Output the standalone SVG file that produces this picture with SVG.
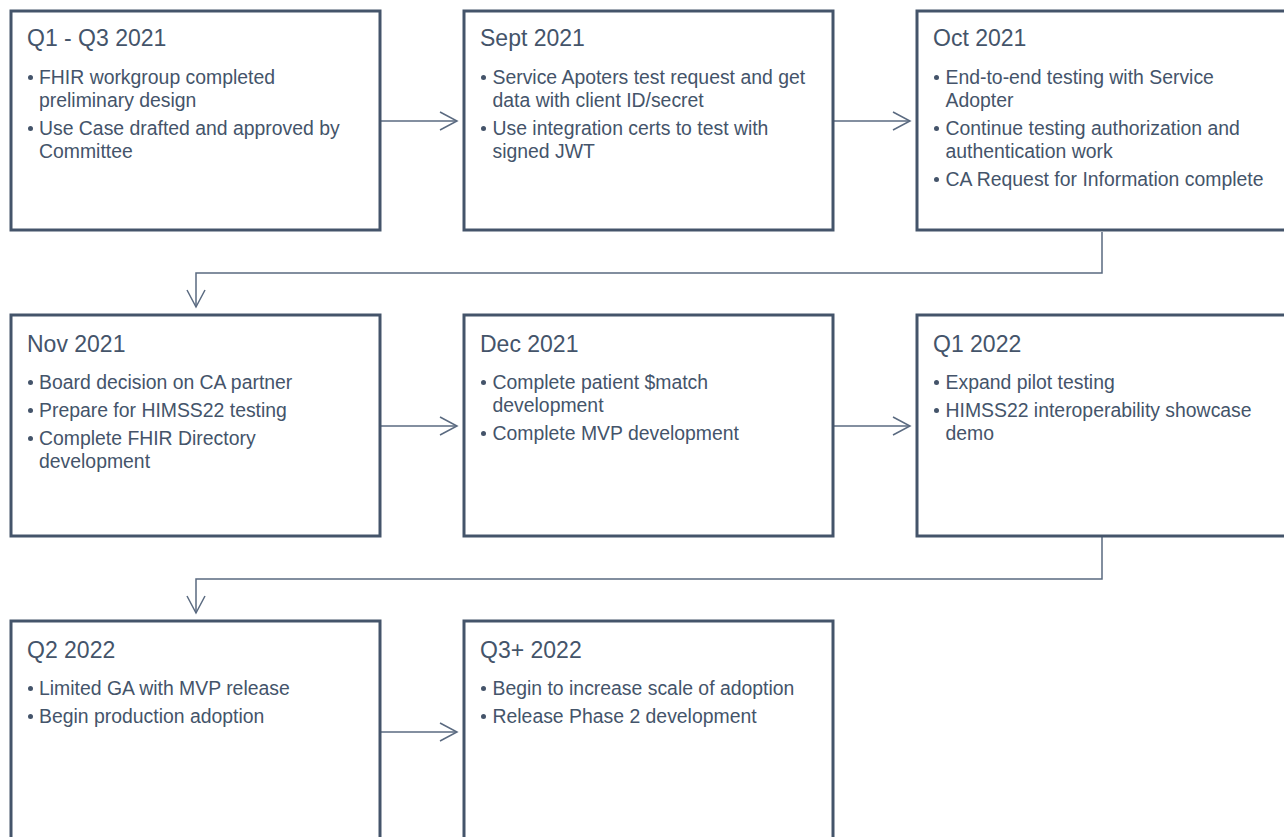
<svg xmlns="http://www.w3.org/2000/svg" width="1284" height="837" viewBox="0 0 1284 837">
<defs>
<style>
.box{fill:#ffffff;stroke:#44546a;stroke-width:3}
.t{font-family:"Liberation Sans",Arial,sans-serif;fill:#44546a}
.title{font-size:23px}
.b{font-size:19.4px}
.dot{fill:#44546a}
.conn{fill:none;stroke:#5a6a80;stroke-width:1.5}
</style>
<marker id="arr" markerUnits="userSpaceOnUse" markerWidth="24" markerHeight="24" viewBox="-20 -12 24 24" refX="0" refY="0" orient="auto">
<polyline points="-17,-9 0,0 -17,9" fill="none" stroke="#5a6a80" stroke-width="1.5"/>
</marker>
</defs>
<rect width="1284" height="837" fill="#ffffff"/>
<g id="connectors">
<line class="conn" x1="381" y1="121" x2="457" y2="121" marker-end="url(#arr)"/>
<line class="conn" x1="834" y1="121" x2="910" y2="121" marker-end="url(#arr)"/>
<polyline class="conn" points="1102,232 1102,273 196,273 196,307" marker-end="url(#arr)"/>
<line class="conn" x1="381" y1="426" x2="457" y2="426" marker-end="url(#arr)"/>
<line class="conn" x1="834" y1="426" x2="910" y2="426" marker-end="url(#arr)"/>
<polyline class="conn" points="1102,537 1102,579 196,579 196,613" marker-end="url(#arr)"/>
<line class="conn" x1="381" y1="732" x2="457" y2="732" marker-end="url(#arr)"/>
</g>
<g id="n1">
<rect class="box" x="11" y="11" width="369" height="219"/>
<text class="t title" x="27" y="46">Q1 - Q3 2021</text>
<circle class="dot" cx="30.5" cy="77.5" r="2.5"/>
<text class="t b" x="39" y="84">FHIR workgroup completed</text>
<text class="t b" x="39" y="107">preliminary design</text>
<circle class="dot" cx="30.5" cy="128.5" r="2.5"/>
<text class="t b" x="39" y="135">Use Case drafted and approved by</text>
<text class="t b" x="39" y="158">Committee</text>
</g>
<g id="n2">
<rect class="box" x="464" y="11" width="369" height="219"/>
<text class="t title" x="480" y="46">Sept 2021</text>
<circle class="dot" cx="483.5" cy="77.5" r="2.5"/>
<text class="t b" x="492.5" y="84">Service Apoters test request and get</text>
<text class="t b" x="492.5" y="107">data with client ID/secret</text>
<circle class="dot" cx="483.5" cy="128.5" r="2.5"/>
<text class="t b" x="492.5" y="135">Use integration certs to test with</text>
<text class="t b" x="492.5" y="158">signed JWT</text>
</g>
<g id="n3">
<rect class="box" x="917" y="11" width="369" height="219"/>
<text class="t title" x="933" y="46">Oct 2021</text>
<circle class="dot" cx="936.5" cy="77.5" r="2.5"/>
<text class="t b" x="945.5" y="84">End-to-end testing with Service</text>
<text class="t b" x="945.5" y="107">Adopter</text>
<circle class="dot" cx="936.5" cy="128.5" r="2.5"/>
<text class="t b" x="945.5" y="135">Continue testing authorization and</text>
<text class="t b" x="945.5" y="158">authentication work</text>
<circle class="dot" cx="936.5" cy="179.5" r="2.5"/>
<text class="t b" x="945.5" y="186">CA Request for Information complete</text>
</g>
<g id="n4">
<rect class="box" x="11" y="315" width="369" height="221"/>
<text class="t title" x="27" y="352">Nov 2021</text>
<circle class="dot" cx="30.5" cy="382.5" r="2.5"/>
<text class="t b" x="39" y="389">Board decision on CA partner</text>
<circle class="dot" cx="30.5" cy="410.5" r="2.5"/>
<text class="t b" x="39" y="417">Prepare for HIMSS22 testing</text>
<circle class="dot" cx="30.5" cy="438.5" r="2.5"/>
<text class="t b" x="39" y="445">Complete FHIR Directory</text>
<text class="t b" x="39" y="468">development</text>
</g>
<g id="n5">
<rect class="box" x="464" y="315" width="369" height="221"/>
<text class="t title" x="480" y="352">Dec 2021</text>
<circle class="dot" cx="483.5" cy="382.5" r="2.5"/>
<text class="t b" x="492.5" y="389">Complete patient $match</text>
<text class="t b" x="492.5" y="412">development</text>
<circle class="dot" cx="483.5" cy="433.5" r="2.5"/>
<text class="t b" x="492.5" y="440">Complete MVP development</text>
</g>
<g id="n6">
<rect class="box" x="917" y="315" width="369" height="221"/>
<text class="t title" x="933" y="352">Q1 2022</text>
<circle class="dot" cx="936.5" cy="382.5" r="2.5"/>
<text class="t b" x="945.5" y="389">Expand pilot testing</text>
<circle class="dot" cx="936.5" cy="410.5" r="2.5"/>
<text class="t b" x="945.5" y="417">HIMSS22 interoperability showcase</text>
<text class="t b" x="945.5" y="440">demo</text>
</g>
<g id="n7">
<rect class="box" x="11" y="621" width="369" height="221"/>
<text class="t title" x="27" y="658">Q2 2022</text>
<circle class="dot" cx="30.5" cy="688.5" r="2.5"/>
<text class="t b" x="39" y="695">Limited GA with MVP release</text>
<circle class="dot" cx="30.5" cy="716.5" r="2.5"/>
<text class="t b" x="39" y="723">Begin production adoption</text>
</g>
<g id="n8">
<rect class="box" x="464" y="621" width="369" height="221"/>
<text class="t title" x="480" y="658">Q3+ 2022</text>
<circle class="dot" cx="483.5" cy="688.5" r="2.5"/>
<text class="t b" x="492.5" y="695">Begin to increase scale of adoption</text>
<circle class="dot" cx="483.5" cy="716.5" r="2.5"/>
<text class="t b" x="492.5" y="723">Release Phase 2 development</text>
</g>
</svg>
